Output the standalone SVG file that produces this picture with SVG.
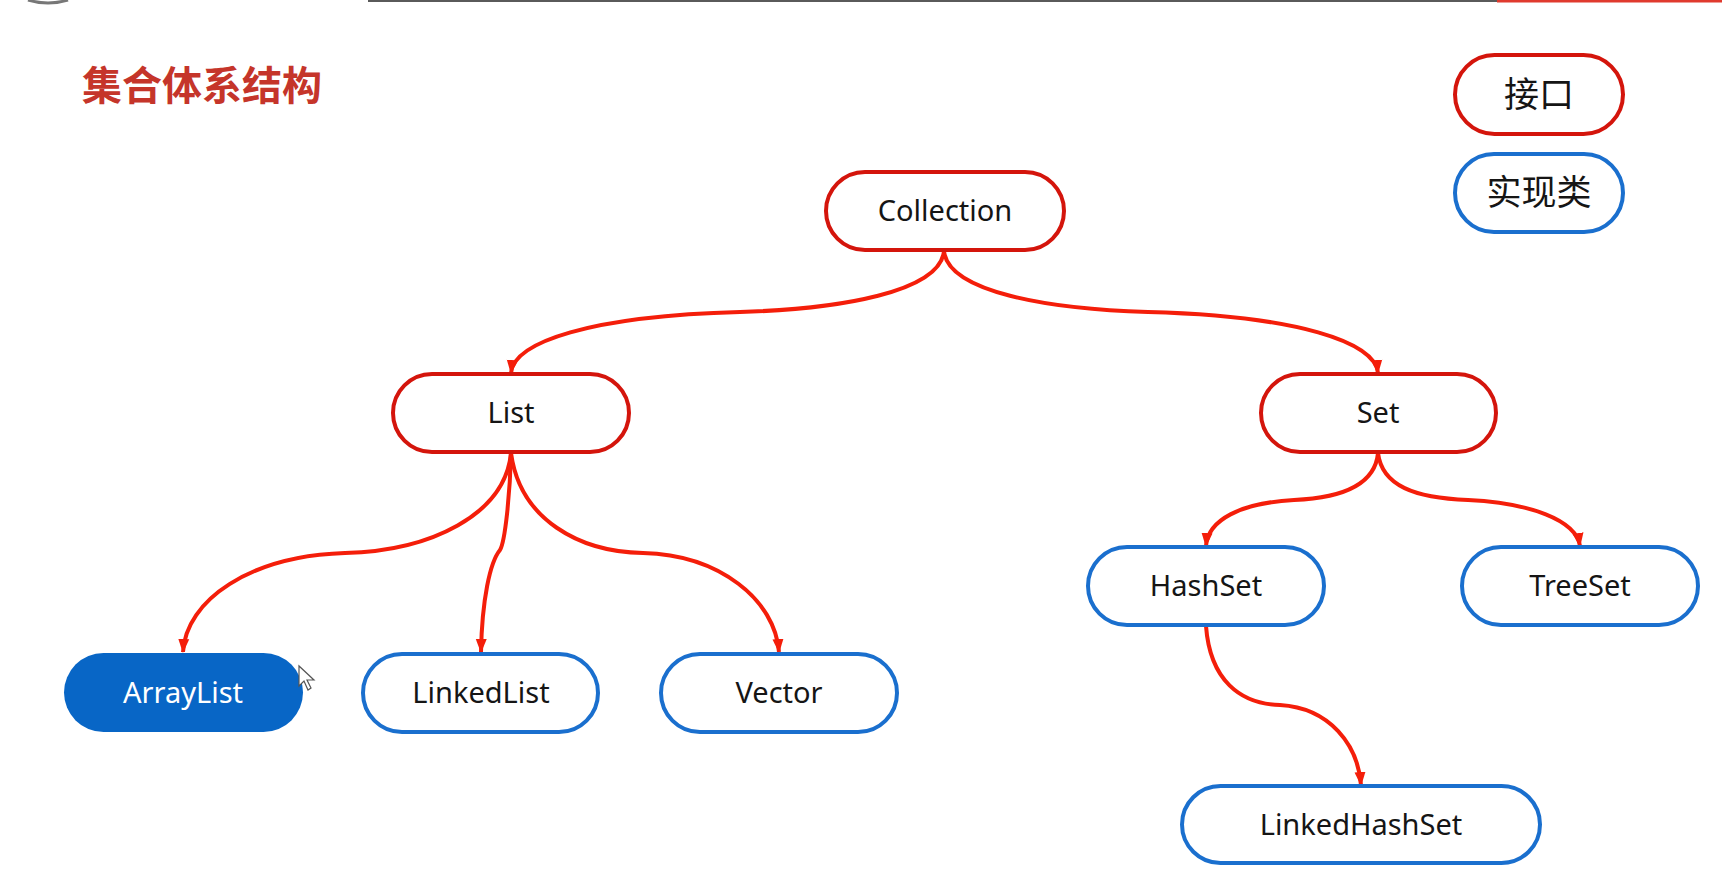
<svg xmlns="http://www.w3.org/2000/svg" width="1722" height="889" viewBox="0 0 1722 889">
<defs>
<style>
.iface rect{fill:#fff;stroke:#d4150c;stroke-width:4}
.impl rect{fill:#fff;stroke:#1a6fce;stroke-width:4}
.label{font-family:"Noto Sans","Liberation Sans",sans-serif;font-size:29px;fill:#151515;text-anchor:middle}
.cjk{font-family:"Noto Sans CJK SC","Noto Sans",sans-serif;font-size:35px;fill:#151515;text-anchor:middle}
.edge{fill:none;stroke:#f41e0a;stroke-width:4;marker-end:url(#arr)}
</style>
<marker id="arr" viewBox="0 0 14 12" refX="13" refY="6" markerWidth="14" markerHeight="12" markerUnits="userSpaceOnUse" orient="auto">
<path d="M0,0.5 L14,6 L0,11.5 Z" fill="#f41e0a"/>
</marker>
</defs>
<rect width="1722" height="889" fill="#fff"/>
<line x1="368" y1="1" x2="1497" y2="1" stroke="#5a5a5a" stroke-width="2"/>
<line x1="1497" y1="1" x2="1722" y2="1" stroke="#e03a2e" stroke-width="3"/>
<path d="M28,0 Q48,6 68,0" fill="none" stroke="#777" stroke-width="3"/>
<text x="82" y="100" font-family="'Noto Sans CJK SC','Noto Sans',sans-serif" font-size="40" font-weight="bold" fill="#c5352a">集合体系结构</text>

<g id="legend-interface" class="iface"><rect x="1455" y="55" width="168" height="79" rx="39.5"/><text class="cjk" x="1539" y="107">接口</text></g>
<g id="legend-impl" class="impl"><rect x="1455" y="154" width="168" height="78" rx="39"/><text class="cjk" x="1539" y="205">实现类</text></g>

<g id="connectors">
<path class="edge" d="M944,251 C940,292 840,309 740,312 C590,316 514,342 511,373"/>
<path class="edge" d="M944,251 C948,292 1048,309 1148,312 C1298,316 1375,342 1378,373"/>
<path class="edge" d="M511,453 C505,515 430,551 345,553 C250,556 186,600 183,652"/>
<path class="edge" d="M511,453 C510,495 505,542 500,550 C490,562 482,600 481,652"/>
<path class="edge" d="M511,453 C520,520 580,552 643,553 C720,555 775,600 779,652"/>
<path class="edge" d="M1378,453 C1375,486 1340,498 1294,500 C1240,503 1208,520 1206,546"/>
<path class="edge" d="M1378,453 C1382,486 1415,498 1468,500 C1530,503 1576,520 1580,546"/>
<path class="edge" d="M1206,626 C1210,680 1240,704 1280,705 C1330,708 1358,745 1361,785"/>
</g>

<g id="node-collection" class="iface"><rect x="826" y="172" width="238" height="78" rx="39"/><text class="label" x="945" y="221">Collection</text></g>
<g id="node-list" class="iface"><rect x="393" y="374" width="236" height="78" rx="39"/><text class="label" x="511" y="423">List</text></g>
<g id="node-set" class="iface"><rect x="1261" y="374" width="235" height="78" rx="39"/><text class="label" x="1378" y="423">Set</text></g>
<g id="node-arraylist"><rect x="64" y="653" width="239" height="79" rx="39.5" fill="#0866c6"/><text class="label" x="183" y="703" style="fill:#fff">ArrayList</text></g>
<g id="node-linkedlist" class="impl"><rect x="363" y="654" width="235" height="78" rx="39"/><text class="label" x="481" y="703">LinkedList</text></g>
<g id="node-vector" class="impl"><rect x="661" y="654" width="236" height="78" rx="39"/><text class="label" x="779" y="703">Vector</text></g>
<g id="node-hashset" class="impl"><rect x="1088" y="547" width="236" height="78" rx="39"/><text class="label" x="1206" y="596">HashSet</text></g>
<g id="node-treeset" class="impl"><rect x="1462" y="547" width="236" height="78" rx="39"/><text class="label" x="1580" y="596">TreeSet</text></g>
<g id="node-linkedhashset" class="impl"><rect x="1182" y="786" width="358" height="77" rx="38.5"/><text class="label" x="1361" y="835">LinkedHashSet</text></g>

<path d="M299,666 L299,686 L304,681 L308,690 L311,688 L307,680 L314,680 Z" fill="#fff" stroke="#555" stroke-width="1.2"/>
</svg>
